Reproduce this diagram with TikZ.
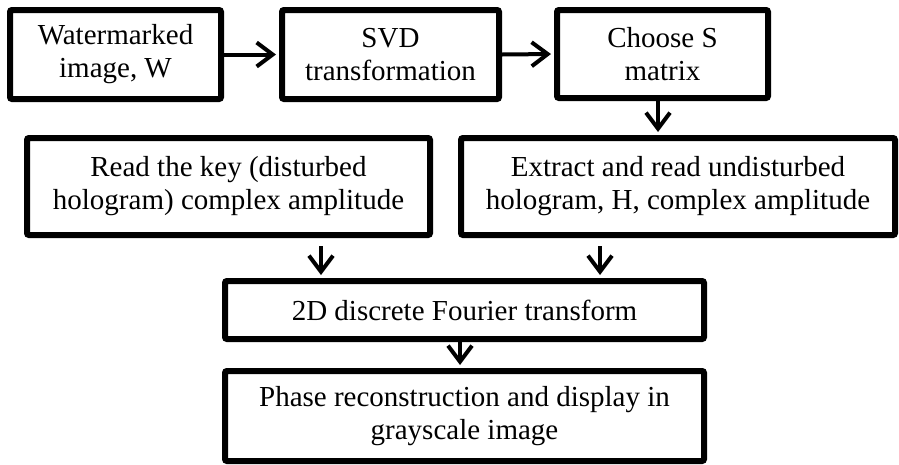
\documentclass[tikz,border=0pt]{standalone}
\usepackage{fontspec}
\setmainfont{Liberation Serif}
\usetikzlibrary{arrows.meta}
\begin{document}
\begin{tikzpicture}[x=1pt,y=-1pt,
  box/.style={draw=black, line width=6pt, rounded corners=2pt, fill=white,
    align=center, inner sep=0pt, font=\fontsize{29}{33}\selectfont},
  arr/.style={line width=4pt, -{Straight Barb[length=16pt,width=24pt,line width=4pt]}}]
\useasboundingbox (0,0) rectangle (899,464);
\node[box, minimum width=211pt, minimum height=89pt] (b1) at (115.5,54.5) {Watermarked\\image, W};
\node[box, minimum width=217pt, minimum height=89pt] (b2) at (390.5,54.5) {SVD\\transformation};
\node[box, minimum width=211pt, minimum height=88pt] (b3) at (662.5,54) {Choose S\\matrix};
\node[box, minimum width=403pt, minimum height=97pt] (b4) at (228.5,186.5) {Read the key (disturbed\\hologram) complex amplitude};
\node[box, minimum width=434pt, minimum height=97pt] (b5) at (678,186.5) {Extract and read undisturbed\\hologram, H, complex amplitude};
\node[box, minimum width=479pt, minimum height=58pt] (b6) at (464.5,310) {2D discrete Fourier transform};
\node[box, minimum width=479pt, minimum height=90pt] (b7) at (464.5,416) {Phase reconstruction and display in\\grayscale image};
\draw[arr, shorten >=3pt] (b1.east) -- (b2.west);
\draw[arr, shorten >=3pt] (b2.east) -- (b3.west);
\draw[arr, shorten >=3pt] ([xshift=-4.5pt]b3.south) -- ([xshift=-4.5pt]b3.south |- b5.north);
\draw[arr, shorten <=8pt, shorten >=3pt] ([xshift=92.5pt]b4.south) -- ([xshift=92.5pt]b4.south |- b6.north);
\draw[arr, shorten <=8pt, shorten >=3pt] ([xshift=-78pt]b5.south) -- ([xshift=-78pt]b5.south |- b6.north);
\draw[arr, shorten >=3pt] ([xshift=-4.5pt]b6.south) -- ([xshift=-4.5pt]b6.south |- b7.north);
\end{tikzpicture}
\end{document}
